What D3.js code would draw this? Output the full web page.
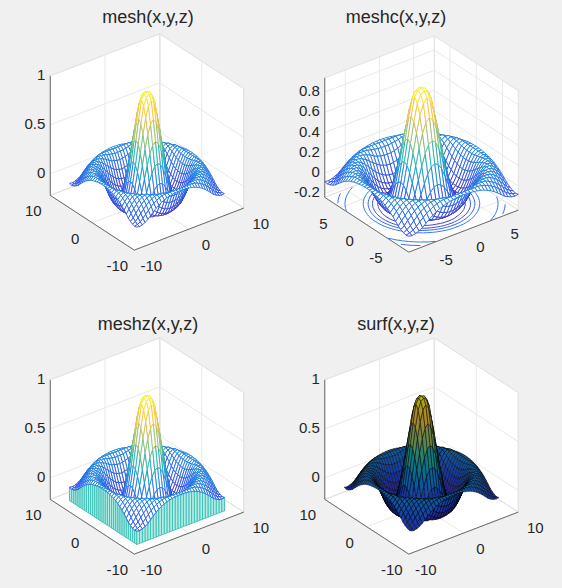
<!DOCTYPE html>
<html>
<head>
<meta charset="utf-8">
<script src="https://cdn.jsdelivr.net/npm/d3@7"></script>
<style>
  body { margin: 0; background: #f0f0f0; }
  text { font-family: "Liberation Sans", Arial, sans-serif; fill: #262626; }
</style>
</head>
<body>
<svg id="fig" width="562" height="588"></svg>
<script>
// radial profile of the surface (z vs distance from centre)
const profileR = [0, 0.5, 1, 1.5, 2, 2.5, 3, 3.5, 4, 4.5, 5, 5.5, 6, 6.5, 7, 7.5, 8, 8.5, 9, 9.5, 10, 10.5, 11, 11.5, 12];
const profileZ = [0.9, 0.89, 0.84, 0.66, 0.45, 0.24, 0.05, -0.1, -0.19, -0.22, -0.19, -0.13, -0.05, 0.03, 0.09, 0.12, 0.12, 0.09, 0.05, 0.0, -0.05, -0.08, -0.09, -0.08, -0.05];
const gridX = d3.range(-8, 8.01, 0.5);
const gridY = d3.range(-8, 8.01, 0.5);
const contourLevels = [-0.18, -0.1, -0.02, 0.06, 0.15, 0.25, 0.35, 0.5, 0.65, 0.8];
const titles = ["mesh(x,y,z)", "meshc(x,y,z)", "meshz(x,y,z)", "surf(x,y,z)"];
const wideTicks = [-10, 0, 10];
const narrowTicks = [-5, 0, 5];
const zTicksA = [0, 0.5, 1];
const zTicksB = [-0.2, 0, 0.2, 0.4, 0.6, 0.8];

const parulaStops = ["#3b2bb0", "#2446e8", "#1c6ee6", "#0a98d0", "#22b1a8", "#7cbf78", "#d1bb59", "#fec832", "#f9fb0e"];

const panels = [
  { mode: "mesh",  cx: 147,   cy: 142, lim: [-10, 10], ticks: wideTicks,   zlim: [-0.22, 1],    zticks: zTicksA, tx: 148, ty: 18 },
  { mode: "meshc", cx: 421.5, cy: 144, lim: [-8, 8],   ticks: narrowTicks, zlim: [-0.24, 0.94], zticks: zTicksB, tx: 396, ty: 18 },
  { mode: "meshz", cx: 147,   cy: 446, lim: [-10, 10], ticks: wideTicks,   zlim: [-0.22, 1],    zticks: zTicksA, tx: 148, ty: 325 },
  { mode: "surf",  cx: 421.5, cy: 446, lim: [-10, 10], ticks: wideTicks,   zlim: [-0.22, 1],    zticks: zTicksA, tx: 396, ty: 325 }
];

const S = 138;
const az = -37.5 * Math.PI / 180, el = 30 * Math.PI / 180;
const ca = Math.cos(az), sa = Math.sin(az), ce = Math.cos(el), se = Math.sin(el);

const profile = d3.scaleLinear().domain(profileR).range(profileZ).clamp(true);
const Z = gridY.map(y => gridX.map(x => profile(Math.hypot(x, y))));
const zAll = Z.flat();
const zMin = d3.min(zAll), zMax = d3.max(zAll);
const color = d3.scaleLinear()
  .domain(parulaStops.map((c, i) => zMin + i / (parulaStops.length - 1) * (zMax - zMin)))
  .range(parulaStops).interpolate(d3.interpolateRgb);
const surfColor = z => d3.interpolateRgb(color(z), "#000")(0.3);

const svg = d3.select("#fig");

panels.forEach((p, pi) => {
  const nu = d3.scaleLinear().domain(p.lim).range([-0.5, 0.5]);
  const nw = d3.scaleLinear().domain(p.zlim).range([-0.5, 0.5]);
  const proj = (x, y, z) => {
    const u = nu(x), v = nu(y), w = nw(z);
    return [p.cx + S * (ca * u + sa * v), p.cy - S * (-se * sa * u + se * ca * v + ce * w)];
  };
  const depth = (x, y, z) => ce * sa * nu(x) - ce * ca * nu(y) + se * nw(z);
  const [x0, x1] = p.lim, [z0, z1] = p.zlim;
  const g = svg.append("g");
  const line = d3.line();
  const poly = pts => line(pts.map(q => proj(...q))) + "Z";

  // back walls
  const walls = [
    [[x1, x0, z0], [x1, x1, z0], [x1, x1, z1], [x1, x0, z1]],
    [[x0, x1, z0], [x1, x1, z0], [x1, x1, z1], [x0, x1, z1]],
    [[x0, x0, z0], [x1, x0, z0], [x1, x1, z0], [x0, x1, z0]]
  ];
  g.selectAll("path.wall").data(walls).join("path").attr("class", "wall")
    .attr("d", poly).attr("fill", "#fff").attr("stroke", "#dcdcdc").attr("stroke-width", 0.8);

  const grid = [];
  p.ticks.forEach(t => {
    grid.push([[t, x0, z0], [t, x1, z0]], [[t, x1, z0], [t, x1, z1]]);
    grid.push([[x0, t, z0], [x1, t, z0]], [[x1, t, z0], [x1, t, z1]]);
  });
  p.zticks.forEach(t => {
    grid.push([[x1, x0, t], [x1, x1, t]], [[x0, x1, t], [x1, x1, t]]);
  });
  g.selectAll("path.grid").data(grid).join("path").attr("class", "grid")
    .attr("d", d => line(d.map(q => proj(...q)))).attr("stroke", "#e3e3e3").attr("stroke-width", 0.8).attr("fill", "none");

  // axis lines
  const axes = [
    [[x0, x1, z0], [x0, x1, z1]],
    [[x0, x0, z0], [x1, x0, z0]],
    [[x0, x1, z0], [x0, x0, z0]]
  ];
  g.selectAll("path.axis").data(axes).join("path").attr("class", "axis")
    .attr("d", d => line(d.map(q => proj(...q)))).attr("stroke", "#4d4d4d").attr("stroke-width", 0.8).attr("fill", "none");

  // contours on the floor (the grid border is dropped)
  if (p.mode === "meshc") {
    const step = gridX[1] - gridX[0];
    const nx = gridX.length, ny = gridY.length;
    const inside = ([gx, gy]) => gx > 0.6 && gx < nx - 0.6 && gy > 0.6 && gy < ny - 0.6;
    const cline = d3.line().defined(d => d.ok).x(d => d.p[0]).y(d => d.p[1]);
    const cs = d3.contours().size([nx, ny]).thresholds(contourLevels)(zAll);
    cs.forEach(c => {
      c.coordinates.forEach(polyg => polyg.forEach(ring => {
        const pts = ring.map(q => ({ ok: inside(q), p: proj(gridX[0] + (q[0] - 0.5) * step, gridY[0] + (q[1] - 0.5) * step, z0) }));
        g.append("path").attr("d", cline(pts)).attr("fill", "none")
          .attr("stroke", color(c.value)).attr("stroke-width", 0.9);
      }));
    });
  }

  // faces
  const faces = [];
  for (let j = 0; j < gridY.length - 1; j++) {
    for (let i = 0; i < gridX.length - 1; i++) {
      const q = [[i, j], [i + 1, j], [i + 1, j + 1], [i, j + 1]].map(([a, b]) => [gridX[a], gridY[b], Z[b][a]]);
      faces.push({ q, d: d3.mean(q, c => depth(...c)), z: d3.mean(q, c => c[2]), kind: "face" });
    }
  }
  if (p.mode === "meshz") {
    const n = gridX.length - 1, zb = z0;
    for (let i = 0; i < n; i++) {
      const sides = [
        [[gridX[i], gridY[0], Z[0][i]], [gridX[i + 1], gridY[0], Z[0][i + 1]]],
        [[gridX[0], gridY[i], Z[i][0]], [gridX[0], gridY[i + 1], Z[i + 1][0]]],
        [[gridX[i], gridY[n], Z[n][i]], [gridX[i + 1], gridY[n], Z[n][i + 1]]],
        [[gridX[n], gridY[i], Z[i][n]], [gridX[n], gridY[i + 1], Z[i + 1][n]]]
      ];
      sides.forEach(([a, b]) => {
        const q = [a, b, [b[0], b[1], zb], [a[0], a[1], zb]];
        faces.push({ q, d: d3.mean(q, c => depth(...c)) - 0.02, z: zb, kind: "curtain" });
      });
    }
  }
  faces.sort((a, b) => a.d - b.d);

  g.selectAll("path.face").data(faces).join("path").attr("class", "face")
    .attr("d", f => poly(f.q))
    .attr("fill", f => f.kind === "curtain" ? "#b4ece5" : (p.mode === "surf" ? surfColor(f.z) : "#fff"))
    .attr("stroke", f => f.kind === "curtain" ? "#35bdb3" : (p.mode === "surf" ? "#000" : color(f.z)))
    .attr("stroke-width", f => p.mode === "surf" ? 0.45 : 0.85)
    .attr("stroke-linejoin", "round");

  // tick labels
  const fs = 15;
  g.selectAll("text.z").data(p.zticks).join("text").attr("class", "z")
    .attr("x", t => proj(x0, x1, t)[0] - 5).attr("y", t => proj(x0, x1, t)[1])
    .attr("text-anchor", "end").attr("dominant-baseline", "middle").attr("font-size", fs)
    .text(t => t);
  g.selectAll("text.y").data(p.ticks).join("text").attr("class", "y")
    .attr("x", t => proj(x0, t, z0)[0] - 17).attr("y", t => proj(x0, t, z0)[1] + 17)
    .attr("text-anchor", "middle").attr("dominant-baseline", "middle").attr("font-size", fs)
    .text(t => t);
  g.selectAll("text.x").data(p.ticks).join("text").attr("class", "x")
    .attr("x", t => proj(t, x0, z0)[0] + 17).attr("y", t => proj(t, x0, z0)[1] + 17)
    .attr("text-anchor", "middle").attr("dominant-baseline", "middle").attr("font-size", fs)
    .text(t => t);

  g.append("text").attr("x", p.tx).attr("y", p.ty).attr("text-anchor", "middle")
    .attr("dominant-baseline", "middle").attr("font-size", 18).text(titles[pi]);
});
</script>
</body>
</html>
